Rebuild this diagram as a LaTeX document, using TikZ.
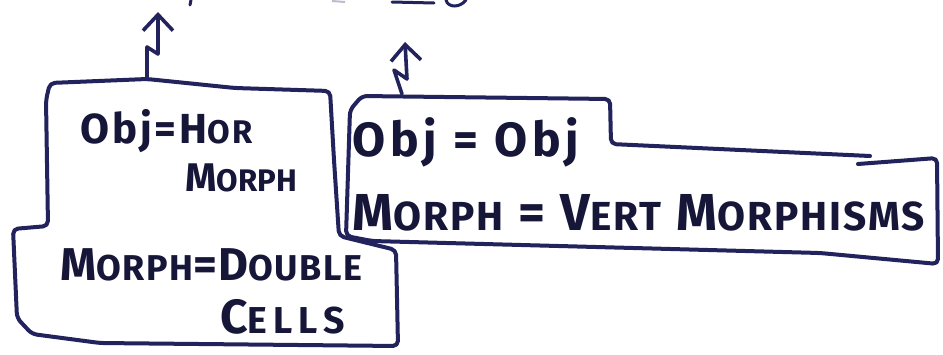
\documentclass[tikz,border=0pt]{standalone}
\usepackage{fontspec}
\setmainfont{Fira Sans}
\usepackage{graphicx}
\usetikzlibrary{arrows.meta}
\definecolor{penblue}{RGB}{34,34,92}
\definecolor{inkdark}{RGB}{22,22,56}
% handwritten caps: big first letter, smaller rest
\newcommand{\hc}[2]{#1\scalebox{0.78}{#2}}
\tikzset{
  pen/.style={draw=penblue,line width=4pt,line cap=round,line join=round,rounded corners=5pt},
  squig/.style={penblue,line width=3.6pt,line cap=round,line join=round,-{Straight Barb[length=16pt,width=30pt,line width=3.6pt]}},
  hand/.style={inkdark,inner sep=0pt,anchor=base west},
}
\begin{document}
\begin{tikzpicture}[x=1pt,y=-1pt]
\useasboundingbox[fill=white] (0,0) rectangle (943,354);
% cut-off strokes at the top edge
\draw[penblue,line width=3pt,line cap=round] (191,0) -- (190,5);
\draw[penblue!30,line width=2pt] (332,1) -- (345,2);
\draw[penblue,line width=3pt,line cap=round] (392,2) -- (434,3);
\draw[penblue,line width=3pt,line cap=round] (446,0) .. controls (448,8) and (460,8) .. (466,0);
% left box (double cells)
\draw[pen] (48,226) -- (46,100) -- (50,83) -- (147,79) -- (235,88) -- (330,91)
  -- (334,160) -- (339,236) -- (396,250) -- (398,346) -- (100,343) -- (32,334)
  -- (17,318) -- (13,229) -- cycle;
% right box (vertical morphisms)
\draw[pen] (870,156) -- (611,144) -- (610,99) -- (362,96) -- (350,110)
  -- (346,236) -- (372,241) -- (820,253) -- (938,264) -- (937,158) -- (858,164);
% squiggly arrows going up
\coordinate (lbase) at (147,79);
\coordinate (ltip) at (158,12);
\coordinate (rbase) at (402,94);
\coordinate (rtip) at (405,42);
\draw[squig] (lbase) -- (147,47) -- (158,54) -- (ltip);
\draw[squig] (rbase) -- (394,70) -- (407,79) -- (rtip);
% labels, left box
\node[hand,font=\fontsize{42}{42}\bfseries\selectfont\addfontfeature{LetterSpace=7}] (objhor) at (80,143) {Obj=\hc{H}{OR}};
\node[hand,font=\fontsize{40}{40}\bfseries\selectfont] (hormorph) at (185,191) {\hc{M}{ORPH}};
\node[hand,font=\fontsize{46}{46}\bfseries\selectfont\addfontfeature{LetterSpace=4}] (morphdbl) at (60,280) {\hc{M}{ORPH}=\hc{D}{OUBLE}};
\node[hand,font=\fontsize{48}{48}\bfseries\selectfont\addfontfeature{LetterSpace=16}] (cells) at (220,333) {\hc{C}{ELLS}};
% labels, right box
\node[hand,font=\fontsize{48}{48}\bfseries\selectfont\addfontfeature{LetterSpace=10}] (objobj) at (352,156) {Obj = Obj};
\node[hand,font=\fontsize{52}{52}\bfseries\selectfont\addfontfeature{LetterSpace=5}] (vertmorph) at (352,230) {\hc{M}{ORPH} = \hc{V}{ERT} \hc{M}{ORPHISMS}};
\end{tikzpicture}
\end{document}
